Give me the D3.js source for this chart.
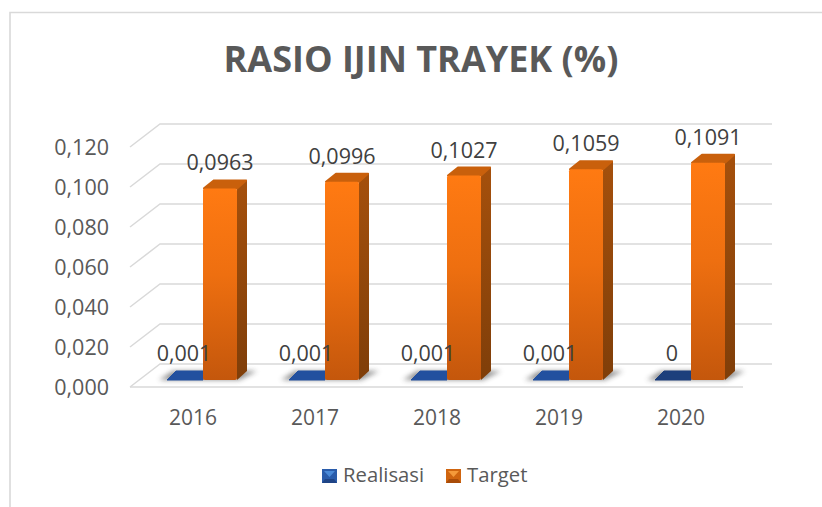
<!DOCTYPE html>
<html>
<head>
<meta charset="utf-8">
<script src="https://cdnjs.cloudflare.com/ajax/libs/d3/7.8.5/d3.min.js"></script>
<style>
  html, body { margin: 0; padding: 0; background: #fff; overflow: hidden; }
  text { font-family: "Open Sans", "Noto Sans", sans-serif; }
</style>
</head>
<body>
<script>
var years = ["2016", "2017", "2018", "2019", "2020"];
var realisasi = [0.001, 0.001, 0.001, 0.001, 0];
var target = [0.0963, 0.0996, 0.1027, 0.1059, 0.1091];
var realisasiLabels = ["0,001", "0,001", "0,001", "0,001", "0"];
var targetLabels = ["0,0963", "0,0996", "0,1027", "0,1059", "0,1091"];
var yTicks = [0, 0.02, 0.04, 0.06, 0.08, 0.1, 0.12];
var legendNames = ["Realisasi", "Target"];

var width = 822, height = 507;
var svg = d3.select("body").append("svg")
    .attr("width", width)
    .attr("height", height);

// 3d box offsets
var depthX = 30, depthY = -23;
var floorLeft = 130, floorRight = 743;

var x = d3.scaleBand()
    .domain(years)
    .range([131, 741]);

var y = d3.scaleLinear()
    .domain([0, 0.12])
    .range([387, 147]);

var barBase = 381;
var barY = d3.scaleLinear()
    .domain([0, 0.12])
    .range([barBase, barBase - 240]);

var defs = svg.append("defs");

var orange = defs.append("linearGradient")
    .attr("id", "orangeFront")
    .attr("x1", 0).attr("y1", 0).attr("x2", 0).attr("y2", 1);
orange.append("stop").attr("offset", "0%").attr("stop-color", "#ff7a12");
orange.append("stop").attr("offset", "45%").attr("stop-color", "#ee6f10");
orange.append("stop").attr("offset", "100%").attr("stop-color", "#c4570c");

var orangeSide = defs.append("linearGradient")
    .attr("id", "orangeSide")
    .attr("x1", 0).attr("y1", 0).attr("x2", 0).attr("y2", 1);
orangeSide.append("stop").attr("offset", "0%").attr("stop-color", "#a5500c");
orangeSide.append("stop").attr("offset", "100%").attr("stop-color", "#7f3e09");

var blur = defs.append("filter").attr("id", "soft")
    .attr("x", "-30%").attr("y", "-60%").attr("width", "160%").attr("height", "220%");
blur.append("feGaussianBlur").attr("stdDeviation", 2.5);

// chart frame, no right edge in the picture
svg.append("path")
    .attr("d", "M10,510V12.5H822")
    .attr("fill", "none")
    .attr("stroke", "#d9d9d9")
    .attr("stroke-width", 1.6);

// title
svg.append("text")
    .attr("x", 421)
    .attr("y", 72)
    .attr("text-anchor", "middle")
    .attr("font-size", 36)
    .attr("font-weight", 700)
    .attr("fill", "#595959")
    .text("RASIO IJIN TRAYEK (%)");

// gridlines on the back wall and the side wall
var grid = svg.append("g")
    .attr("fill", "none")
    .attr("stroke", "#d9d9d9")
    .attr("stroke-width", 1.5);

grid.selectAll("path")
    .data(yTicks)
    .enter()
    .append("path")
    .attr("d", function (d) {
        var py = y(d);
        return "M" + floorLeft + "," + py + "L" + (floorLeft + depthX) + "," + (py + depthY) +
            "H" + (floorRight + depthX - 1);
    });

// floor front edge
grid.append("path")
    .attr("d", "M" + floorLeft + "," + y(0) + "H" + floorRight);

// axis labels
var yAxis = d3.axisLeft(y)
    .tickValues(yTicks)
    .tickSize(0)
    .tickPadding(0)
    .tickFormat(function (d) { return d3.format(".3f")(d).replace(".", ","); });

var yAxisGroup = svg.append("g")
    .attr("transform", "translate(109,1)")
    .call(yAxis);
yAxisGroup.select(".domain").remove();
yAxisGroup.selectAll("text")
    .attr("font-size", 21.5)
    .attr("fill", "#595959")
    .style("font-family", '"Open Sans", sans-serif');

var xAxis = d3.axisBottom(x).tickSize(0).tickPadding(0);
var xAxisGroup = svg.append("g")
    .attr("transform", "translate(1,410)")
    .call(xAxis);
xAxisGroup.select(".domain").remove();
xAxisGroup.selectAll("text")
    .attr("font-size", 21)
    .attr("fill", "#595959")
    .style("font-family", '"Open Sans", sans-serif');

// bars, one group per year
var barW = 34, barSideW = 10, barSideH = 9;
var blueW = 36, blueSkew = 9;

function barLeft(year) {
    return x(year) + x.bandwidth() / 2 + 11;
}

var groups = svg.selectAll(".year")
    .data(years)
    .enter()
    .append("g")
    .attr("class", "year");

// soft shadow on the floor
groups.append("path")
    .attr("d", function (d) {
        var l = barLeft(d);
        return "M" + (l - blueW - 8) + "," + (barBase - 1) + "L" + (l - blueW + 6) + "," + (barBase - 10) +
            "H" + (l + barW + barSideW + 10) + "L" + (l + barW + 2) + "," + (barBase - 1) + "Z";
    })
    .attr("fill", "#555")
    .attr("opacity", 0.65)
    .attr("filter", "url(#soft)");

// blue bars are almost flat
groups.append("path")
    .attr("d", function (d, i) {
        var l = barLeft(d);
        return "M" + (l - blueW) + "," + (barBase - 1) + "L" + (l - blueW + blueSkew) + "," + (barBase - 1 - barSideH) +
            "H" + l + "V" + (barBase - 1) + "Z";
    })
    .attr("fill", function (d, i) { return realisasi[i] > 0 ? "#22509f" : "#1c3f7c"; })
    .attr("stroke", function (d, i) { return realisasi[i] > 0 ? "#22509f" : "#1c3f7c"; })
    .attr("stroke-linejoin", "round");

// orange side face
groups.append("path")
    .attr("d", function (d, i) {
        var l = barLeft(d) + barW;
        var top = barY(target[i]);
        return "M" + l + "," + top + "L" + (l + barSideW) + "," + (top - barSideH) +
            "V" + (barBase - 1 - barSideH) + "L" + l + "," + (barBase - 1) + "Z";
    })
    .attr("fill", "url(#orangeSide)");

// orange top face
groups.append("path")
    .attr("d", function (d, i) {
        var l = barLeft(d);
        var top = barY(target[i]);
        return "M" + (l + 1) + "," + top + "L" + (l + barSideW + 1) + "," + (top - barSideH + 1) +
            "H" + (l + barW + barSideW - 1) + "L" + (l + barW) + "," + top + "Z";
    })
    .attr("fill", "#c9600c")
    .attr("stroke", "#c9600c")
    .attr("stroke-width", 2)
    .attr("stroke-linejoin", "round");

// orange front face
groups.append("rect")
    .attr("x", function (d) { return barLeft(d); })
    .attr("y", function (d, i) { return barY(target[i]); })
    .attr("width", barW)
    .attr("height", function (d, i) { return barBase - 1 - barY(target[i]); })
    .attr("rx", 2)
    .attr("fill", "url(#orangeFront)");

// value labels
groups.append("text")
    .attr("x", function (d) { return barLeft(d) + barW / 2; })
    .attr("y", function (d, i) { return barY(target[i]) - 18; })
    .attr("text-anchor", "middle")
    .attr("font-size", 21.5)
    .attr("fill", "#404040")
    .text(function (d, i) { return targetLabels[i]; });

groups.append("text")
    .attr("x", function (d) { return barLeft(d) - 19; })
    .attr("y", 361)
    .attr("text-anchor", "middle")
    .attr("font-size", 21.5)
    .attr("fill", "#404040")
    .text(function (d, i) { return realisasiLabels[i]; });

// legend
var legendX = d3.scaleOrdinal().domain(legendNames).range([322, 446]);
var legendBase = d3.scaleOrdinal().domain(legendNames).range(["#2a5cab", "#d0650f"]);
var legendTop = d3.scaleOrdinal().domain(legendNames).range(["#4a8ad8", "#f59a3a"]);
var legendLow = d3.scaleOrdinal().domain(legendNames).range(["#1f4486", "#a94c09"]);

var legend = svg.selectAll(".legend")
    .data(legendNames)
    .enter()
    .append("g")
    .attr("class", "legend")
    .attr("transform", function (d) { return "translate(" + legendX(d) + ",469)"; });

legend.append("rect")
    .attr("width", 15)
    .attr("height", 14)
    .attr("fill", function (d) { return legendBase(d); });

// little bevel on the legend keys
legend.append("path")
    .attr("d", "M2,2H13L7.5,8Z")
    .attr("fill", function (d) { return legendTop(d); });

legend.append("path")
    .attr("d", "M0,14L3,10H12L15,14Z")
    .attr("fill", function (d) { return legendLow(d); });

legend.append("text")
    .attr("x", 21)
    .attr("y", 13)
    .attr("font-size", 20.3)
    .attr("fill", "#595959")
    .text(function (d) { return d; });
</script>
</body>
</html>
